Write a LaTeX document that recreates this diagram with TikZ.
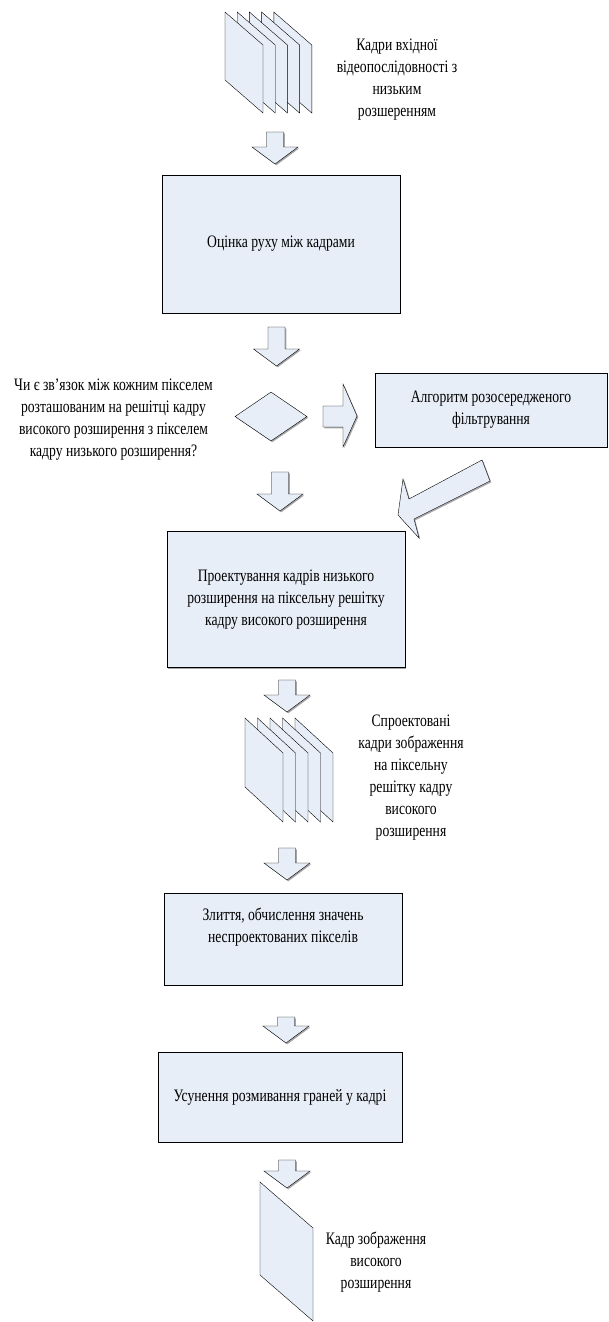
\documentclass[tikz,border=0pt]{standalone}
\usepackage{fontspec}
\setmainfont[FakeStretch=0.78]{Liberation Serif}
\usepackage{tikz}
\usetikzlibrary{calc,shapes.geometric,shadows}

\begin{document}
\begin{tikzpicture}[x=1pt,y=-1pt,
	font=\fontsize{17.5}{22}\selectfont,
	shade/.style={drop shadow={shadow xshift=1.3pt,shadow yshift=-1.3pt,fill=gray!70,opacity=1}},
	box/.style={draw=black, fill=boxfill, shade, align=center, inner sep=4pt},
	blockarrow/.style={draw=black, fill=boxfill, shade, line join=miter},
	videoframe/.style={draw=black, fill=boxfill, line join=miter},
	note/.style={align=center, inner sep=0pt}
	]

	\useasboundingbox (0,0) rectangle (608,1322);

	\definecolor{boxfill}{HTML}{E8EEF8}

	%block arrow sizes
	\def\Asw{8.5}
	\def\Ahw{23}
	\def\Ahl{17}

	%frame sizes
	\def\Fw{38}

	% down block arrow: centre x, top y, tip y
	\def\blockdown#1#2#3{%
		\filldraw[blockarrow] (#1-\Asw,#2) -- (#1+\Asw,#2) -- (#1+\Asw,#3-\Ahl)
			-- (#1+\Ahw,#3-\Ahl) -- (#1,#3) -- (#1-\Ahw,#3-\Ahl) -- (#1-\Asw,#3-\Ahl) -- cycle;}

	% input frames (back to front)
	\foreach \i in {4,3,2,1,0}
		\filldraw[videoframe] (225+12.2*\i,12) -- ++(\Fw,33) -- ++(0,68) -- ++(-\Fw,-33) -- cycle;
	\node[note] (inputlbl) at (397,80)
		{Кадри вхідної\\відеопослідовності з\\низьким\\розшеренням};

	\blockdown{275}{132}{164}

	% motion estimation
	\node[box, minimum width=238, minimum height=138] (motion) at (281,244)
		{Оцінка руху між кадрами};

	\blockdown{276.5}{327}{366}

	% decision
	\node[draw=black, fill=boxfill, shade, diamond, inner sep=0pt,
		minimum width=72, minimum height=49] (check) at (271,416.5) {};
	\node[note] (question) at (113.5,420)
		{Чи є зв’язок між кожним пікселем\\розташованим на решітці кадру\\високого розширення з пікселем\\кадру низького розширення?};

	% right block arrow
	\filldraw[blockarrow] (323,406) -- (343,406) -- (343,384) -- (357,416)
		-- (343,447) -- (343,427) -- (323,427) -- cycle;

	\node[box, minimum width=232, minimum height=74] (filter) at (491,410)
		{Алгоритм розосередженого\\фільтрування};

	% back from filtering
	\filldraw[blockarrow] (482,460) -- (490,481) -- (414,519) -- (419,538)
		-- (398,515) -- (403,479) -- (409,499) -- cycle;

	\blockdown{280}{472}{511}

	% projection
	\node[box, minimum width=238, minimum height=136] (project) at (286,599.5)
		{Проектування кадрів низького\\розширення на піксельну решітку\\кадру високого розширення};

	\blockdown{287}{680}{712}

	% projected frames (back to front)
	\foreach \i in {4,3,2,1,0}
		\filldraw[videoframe] (245+12.5*\i,718) -- ++(\Fw,35) -- ++(0,69) -- ++(-\Fw,-35) -- cycle;
	\node[note] (projlbl) at (411,778)
		{Спроектовані\\кадри зображення\\на піксельну\\решітку кадру\\високого\\розширення};

	\blockdown{287}{848}{880}

	% fusion
	\node[box, minimum width=238, minimum height=92] (fusion) at (283,939)
		{Злиття, обчислення значень\\неспроектованих пікселів\\[6pt]};

	\blockdown{286}{1017}{1043}

	% deblurring
	\node[box, minimum width=244, minimum height=90] (deblur) at (280,1097)
		{Усунення розмивання граней у кадрі};

	\blockdown{287}{1160}{1188}

	% output frame
	\filldraw[videoframe] (260,1182) -- ++(53,46) -- ++(0,93) -- ++(-53,-46) -- cycle;
	\node[note] (outlbl) at (376,1262)
		{Кадр зображення\\високого\\розширення};

\end{tikzpicture}
\end{document}
